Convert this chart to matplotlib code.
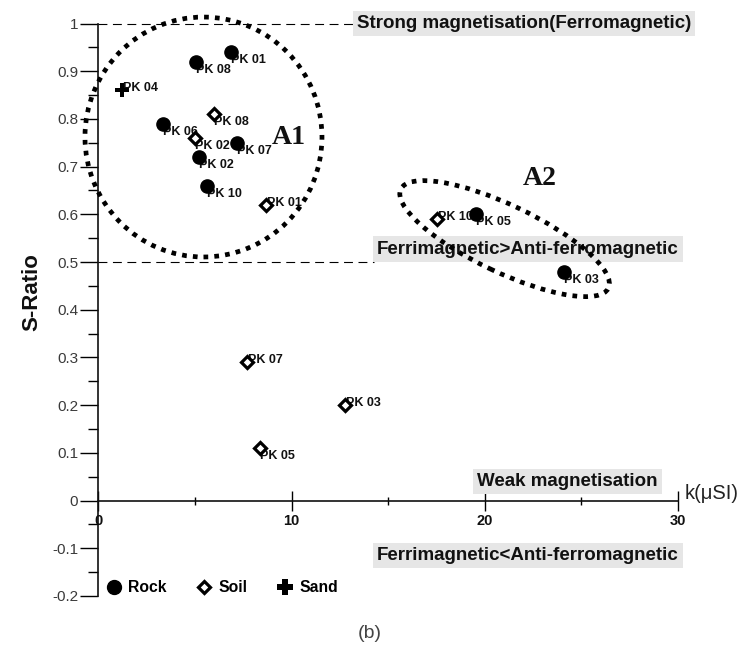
import matplotlib
matplotlib.use("Agg")
import matplotlib.pyplot as plt
from matplotlib.patches import Ellipse
from matplotlib.lines import Line2D
from matplotlib.transforms import IdentityTransform
import numpy as np

# ---------------- data ----------------
rock_labels = ['PK 01', 'PK 08', 'PK 06', 'PK 07', 'PK 02', 'PK 10', 'PK 05', 'PK 03']
rock_k = [6.85, 5.04, 3.36, 7.18, 5.21, 5.61, 19.54, 24.12]
rock_s = [0.94, 0.92, 0.79, 0.75, 0.72, 0.66, 0.60, 0.48]

soil_labels = ['PK 08', 'PK 02', 'PK 01', 'PK 10', 'PK 07', 'PK 03', 'PK 05']
soil_k = [6.0, 5.0, 8.66, 17.55, 7.68, 12.76, 8.37]
soil_s = [0.81, 0.76, 0.62, 0.59, 0.29, 0.20, 0.11]

sand_labels = ['PK 04']
sand_k = [1.2]
sand_s = [0.86]

y_ticks = [-0.2, -0.1, 0, 0.1, 0.2, 0.3, 0.4, 0.5, 0.6, 0.7, 0.8, 0.9, 1.0]
y_tick_labels = ['-0.2', '-0.1', '0', '0.1', '0.2', '0.3', '0.4', '0.5', '0.6', '0.7', '0.8', '0.9', '1']
x_ticks = [0, 10, 20, 30]
x_tick_labels = ['0', '10', '20', '30']

zone_texts = ['Strong magnetisation(Ferromagnetic)', 'Ferrimagnetic>Anti-ferromagnetic',
              'Weak magnetisation', 'Ferrimagnetic<Anti-ferromagnetic']
zone_levels = [1.0, 0.5]

# ---------------- layout ----------------
SANS = 'Liberation Sans'
fig = plt.figure(figsize=(7.41, 6.49), dpi=100)
ax = fig.add_axes([0, 0, 1, 1])
ax.patch.set_alpha(0)
ax.set_xlim(-98.5 / 19.3, (741 - 98.5) / 19.3)
ax.set_ylim((500.5 - 649) / 477, 500.5 / 477)

for s in ['top', 'right']:
    ax.spines[s].set_visible(False)
ax.spines['left'].set_position(('data', 0))
ax.spines['bottom'].set_position(('data', 0))
ax.spines['left'].set_bounds(-0.2, 1.0)
ax.spines['bottom'].set_bounds(0, 30)
for s in ['left', 'bottom']:
    ax.spines[s].set_linewidth(1.2)
    ax.spines[s].set_color('#111111')

ax.set_yticks(y_ticks)
ax.set_yticklabels(y_tick_labels, fontfamily=SANS, fontsize=11, color='#3a3a3a')
ax.set_yticks(np.arange(-0.15, 1.0, 0.1), minor=True)
ax.tick_params(axis='y', which='major', direction='out', length=13, width=1.0, pad=1.5)
ax.tick_params(axis='y', which='minor', direction='out', length=7, width=1.0)

ax.set_xticks(x_ticks)
ax.set_xticklabels(x_tick_labels, fontfamily=SANS, fontsize=10.5, fontweight='bold', color='#111111')
ax.set_xticks([5, 15, 25], minor=True)
ax.tick_params(axis='x', which='major', direction='inout', length=14, width=1.0, pad=3)
ax.tick_params(axis='x', which='minor', direction='inout', length=6, width=1.0)

# dashed reference lines
ax.plot([0, 13.3], [zone_levels[0]] * 2, color='black', lw=0.8, ls=(0, (8, 5)), zorder=1)
ax.plot([0, 14.3], [zone_levels[1]] * 2, color='black', lw=0.8, ls=(0, (8, 5)), zorder=1)

# zone boxes
box = dict(boxstyle='square,pad=0.22', fc='#e6e6e6', ec='none')
zone_pos = [(13.39, 1.0), (14.43, 0.527), (19.61, 0.040), (14.43, -0.116)]
for t, (x, y) in zip(zone_texts, zone_pos):
    ax.text(x, y, t, fontfamily=SANS, fontsize=13.5, fontweight='bold', color='#111111',
            ha='left', va='center', bbox=box, zorder=2)

# axis labels
ax.text(30.39, 0.014, 'k(\u03bcSI)', fontfamily=SANS, fontsize=14.5, color='#222222',
        ha='left', va='center')
fig.text(32 / 741, 1 - 292 / 649, 'S-Ratio', fontfamily=SANS, fontsize=16, fontweight='bold',
         rotation=90, ha='center', va='center', color='#111111')
fig.text(370 / 741, 1 - 634 / 649, '(b)', fontfamily=SANS, fontsize=14, color='#444444',
         ha='center', va='center')

# ellipses
dot = (0, (1.0, 1.3))
e1 = Ellipse((5.44, 0.762), 12.28, 0.503, fill=False, ec='black', lw=3.4, ls=dot, zorder=5)
e1.set_capstyle('butt')
ax.add_patch(e1)
cx, cy = ax.transData.transform((21.04, 0.549))
e2 = Ellipse((cx, cy), 230, 67, angle=-25.5, fill=False, ec='black', lw=3.4, ls=dot,
             transform=IdentityTransform(), zorder=5)
e2.set_capstyle('butt')
ax.add_patch(e2)
ax.text(9.86, 0.76, 'A1', fontfamily='Liberation Serif', fontsize=20, fontweight='bold',
        ha='center', va='center', color='#111111')
ax.text(22.87, 0.676, 'A2', fontfamily='Liberation Serif', fontsize=20, fontweight='bold',
        ha='center', va='center', color='#111111')

# points
ax.plot(rock_k, rock_s, ls='none', marker='o', ms=9.5, mfc='black', mec='black', zorder=6)
ax.plot(soil_k, soil_s, ls='none', marker='D', ms=6, mfc='white', mec='black', mew=2.3, zorder=6)
ax.plot(sand_k, sand_s, ls='none', marker='P', ms=9.5, mfc='black', mec='black', mew=0, zorder=6)

below = (0, -8)
side = (1, 2)
rock_off = [below] * len(rock_labels)
soil_off = [below, below, side, side, side, side, below]
sand_off = [side]
for labels, ks, ss, offs in [(rock_labels, rock_k, rock_s, rock_off),
                             (soil_labels, soil_k, soil_s, soil_off),
                             (sand_labels, sand_k, sand_s, sand_off)]:
    for lab, k, s, off in zip(labels, ks, ss, offs):
        ax.annotate(lab, (k, s), xytext=off, textcoords='offset pixels', fontfamily=SANS,
                    fontsize=9, fontweight='bold', ha='left', va='center', color='#111111', zorder=4)

# legend
handles = [Line2D([], [], ls='none', marker='o', ms=10, mfc='black', mec='black'),
           Line2D([], [], ls='none', marker='D', ms=6, mfc='white', mec='black', mew=2.3),
           Line2D([], [], ls='none', marker='P', ms=11, mfc='black', mec='black', mew=0)]
leg = ax.legend(handles, ['Rock', 'Soil', 'Sand'], ncol=3, loc='center left',
                bbox_to_anchor=(106 / 741, 1 - 588 / 649), frameon=False,
                prop=dict(family=SANS, size=11.3, weight='bold'), handlelength=1.0,
                handletextpad=0.4, columnspacing=1.9, borderpad=0, borderaxespad=0)

fig.savefig('out.png', dpi=100)
